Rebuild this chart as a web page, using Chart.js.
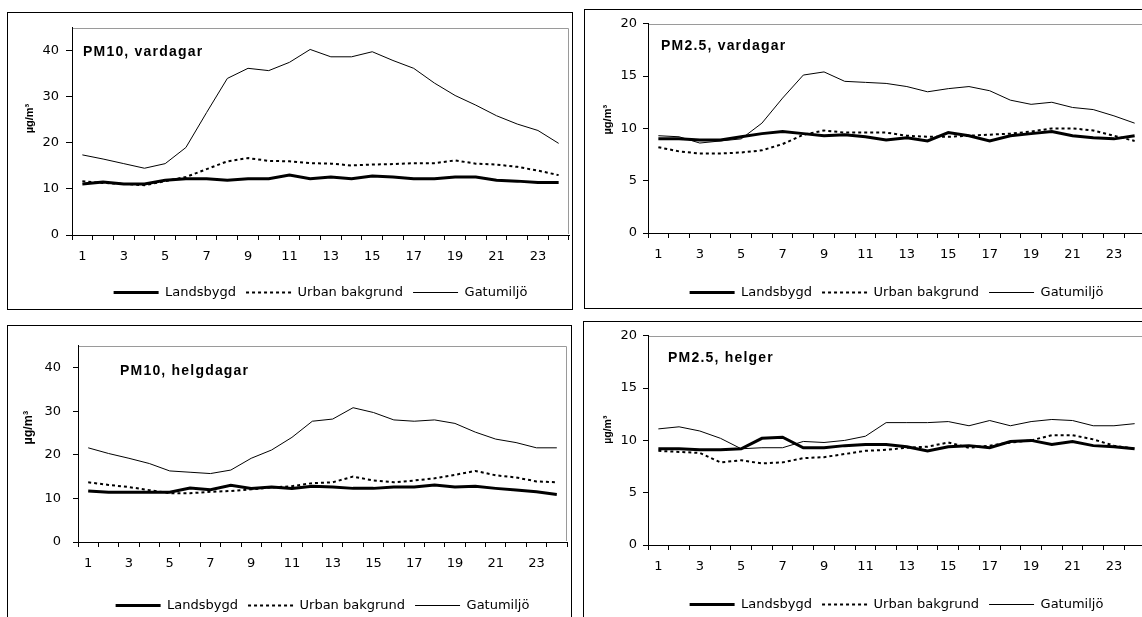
<!DOCTYPE html>
<html>
<head>
<meta charset="utf-8">
<script src="https://cdn.jsdelivr.net/npm/chart.js@4.4.0/dist/chart.umd.min.js"></script>
<style>
body { margin:0; background:#fff; overflow:hidden; width:1142px; height:617px; position:relative; }
.ram { position:absolute; border:1px solid #000; box-sizing:border-box; }
canvas { position:absolute; }
</style>
</head>
<body>
<div class="ram" style="left:7px;top:12px;width:566px;height:298px"></div>
<div class="ram" style="left:584px;top:9px;width:600px;height:300px"></div>
<div class="ram" style="left:7px;top:325px;width:565px;height:320px"></div>
<div class="ram" style="left:583px;top:321px;width:600px;height:320px"></div>

<canvas id="pm10v" width="564" height="296" style="left:8px;top:13px"></canvas>
<canvas id="pm25v" width="598" height="299" style="left:585px;top:10px"></canvas>
<canvas id="pm10h" width="563" height="300" style="left:8px;top:326px"></canvas>
<canvas id="pm25h" width="600" height="304" style="left:584px;top:322px"></canvas>

<script>
// timme på dygnet
var timmar = ['1','2','3','4','5','6','7','8','9','10','11','12','13','14','15','16','17','18','19','20','21','22','23','24'];

// PM10, vardagar (µg/m³)
var pm10vLand  = [11.1, 11.5, 11.1, 11.1, 11.9, 12.2, 12.2, 11.9, 12.2, 12.2, 13.0, 12.2, 12.6, 12.2, 12.8, 12.6, 12.2, 12.2, 12.6, 12.6, 11.9, 11.7, 11.4, 11.4];
var pm10vUrban = [11.7, 11.3, 11.1, 10.8, 11.7, 12.6, 14.3, 16.0, 16.7, 16.1, 16.0, 15.6, 15.5, 15.1, 15.3, 15.4, 15.6, 15.6, 16.2, 15.5, 15.3, 14.8, 14.0, 13.0];
var pm10vGata  = [17.4, 16.5, 15.5, 14.5, 15.5, 19.0, 26.6, 34.0, 36.2, 35.7, 37.5, 40.3, 38.7, 38.7, 39.8, 37.9, 36.2, 33.0, 30.3, 28.2, 25.9, 24.1, 22.7, 19.9];

// PM2.5, vardagar
var pm25vLand  = [9.0, 9.0, 8.9, 8.9, 9.2, 9.5, 9.7, 9.5, 9.3, 9.4, 9.2, 8.9, 9.1, 8.8, 9.6, 9.3, 8.8, 9.3, 9.5, 9.7, 9.3, 9.1, 9.0, 9.3];
var pm25vUrban = [8.2, 7.8, 7.6, 7.6, 7.7, 7.9, 8.5, 9.4, 9.8, 9.6, 9.6, 9.6, 9.3, 9.2, 9.2, 9.3, 9.4, 9.5, 9.7, 10.0, 10.0, 9.8, 9.3, 8.8];
var pm25vGata  = [9.3, 9.2, 8.6, 8.8, 9.0, 10.5, 12.9, 15.1, 15.4, 14.5, 14.4, 14.3, 14.0, 13.5, 13.8, 14.0, 13.6, 12.7, 12.3, 12.5, 12.0, 11.8, 11.2, 10.5];

// PM10, helgdagar
var pm10hLand  = [11.7, 11.4, 11.4, 11.4, 11.4, 12.4, 12.0, 13.0, 12.3, 12.6, 12.3, 12.8, 12.6, 12.3, 12.3, 12.6, 12.6, 13.1, 12.6, 12.8, 12.3, 11.9, 11.5, 10.9];
var pm10hUrban = [13.7, 13.1, 12.6, 11.9, 11.2, 11.2, 11.5, 11.7, 12.1, 12.5, 12.8, 13.5, 13.7, 15.0, 14.1, 13.7, 14.1, 14.6, 15.4, 16.3, 15.3, 14.8, 13.9, 13.7];
var pm10hGata  = [21.6, 20.3, 19.2, 18.0, 16.3, 16.0, 15.7, 16.5, 19.2, 21.1, 24.0, 27.7, 28.2, 30.8, 29.7, 28.0, 27.7, 28.0, 27.2, 25.2, 23.6, 22.8, 21.6, 21.6];

// PM2.5, helger
var pm25hLand  = [9.2, 9.2, 9.1, 9.1, 9.2, 10.2, 10.3, 9.3, 9.3, 9.5, 9.6, 9.6, 9.4, 9.0, 9.4, 9.5, 9.3, 9.9, 10.0, 9.6, 9.9, 9.5, 9.4, 9.2];
var pm25hUrban = [9.0, 8.9, 8.8, 7.9, 8.1, 7.8, 7.9, 8.3, 8.4, 8.7, 9.0, 9.1, 9.3, 9.4, 9.8, 9.3, 9.5, 9.8, 10.0, 10.5, 10.5, 10.1, 9.5, 9.2];
var pm25hGata  = [11.1, 11.3, 10.9, 10.2, 9.2, 9.3, 9.3, 9.9, 9.8, 10.0, 10.4, 11.7, 11.7, 11.7, 11.8, 11.4, 11.9, 11.4, 11.8, 12.0, 11.9, 11.4, 11.4, 11.6];

Chart.defaults.font.family = '"DejaVu Sans", sans-serif';
Chart.defaults.font.size = 13;
Chart.defaults.color = '#000';

// grå ram runt diagramytan (topp och höger) + rubrik och enhet
var panelText = {
    id: 'panelText',
    beforeDatasetsDraw: function(chart) {
        var ctx = chart.ctx, a = chart.chartArea;
        ctx.save();
        ctx.strokeStyle = '#9a9a9a';
        ctx.lineWidth = 1;
        ctx.beginPath();
        ctx.moveTo(a.left + 1, Math.round(a.top) + 0.5);
        ctx.lineTo(Math.round(a.right) - 0.5, Math.round(a.top) + 0.5);
        ctx.lineTo(Math.round(a.right) - 0.5, a.bottom - 1);
        ctx.stroke();
        ctx.restore();
    },
    afterDraw: function(chart, args, o) {
        var ctx = chart.ctx, a = chart.chartArea;
        ctx.save();
        ctx.fillStyle = '#000';
        ctx.font = 'bold 14px "Liberation Sans"';
        ctx.letterSpacing = '1.2px';
        ctx.textBaseline = 'alphabetic';
        ctx.fillText(o.title, a.left + o.titleDx, a.top + o.titleDy);
        ctx.letterSpacing = '0px';
        ctx.translate(o.unitX, o.unitY);
        ctx.rotate(-Math.PI / 2);
        ctx.font = 'bold ' + o.unitSize + 'px "Liberation Sans"';
        ctx.textAlign = 'center';
        ctx.textBaseline = 'middle';
        ctx.fillText('µg/m³', 0, 0);
        ctx.restore();
    }
};

// legendens linjeprov ska ha samma streckning som serien
function legendLabels(chart) {
    var items = Chart.defaults.plugins.legend.labels.generateLabels(chart);
    items.forEach(function(it) {
        var ds = chart.data.datasets[it.datasetIndex];
        it.lineDash = ds.borderDash || [];
        it.lineWidth = ds.borderWidth;
    });
    return items;
}

function rita(id, land, urban, gata, o) {
    var ctx = document.getElementById(id).getContext('2d');
    new Chart(ctx, {
        type: 'line',
        data: {
            labels: timmar,
            datasets: [
                { label: 'Landsbygd', data: land, borderColor: '#000', borderWidth: 3 },
                { label: 'Urban bakgrund', data: urban, borderColor: '#000', borderWidth: 2, borderDash: [3, 3] },
                { label: 'Gatumiljö', data: gata, borderColor: '#000', borderWidth: 1 }
            ]
        },
        options: {
            responsive: false,
            animation: false,
            events: [],
            elements: { point: { radius: 0 }, line: { tension: 0 } },
            layout: { padding: { left: 0, top: o.padTop, right: o.padRight, bottom: o.padBottom } },
            scales: {
                x: {
                    offset: true,
                    grid: { offset: true, drawOnChartArea: false, tickLength: 5, tickColor: '#000' },
                    border: { color: '#000' },
                    ticks: {
                        autoSkip: false, maxRotation: 0, padding: 9,
                        callback: function(v, i) { return i % 2 === 0 ? this.getLabelForValue(v) : ''; }
                    },
                    afterFit: function(s) { s.height = o.xHeight; }
                },
                y: {
                    min: 0, max: o.yMax,
                    ticks: { stepSize: o.step, padding: o.yPad },
                    afterBuildTicks: function(s) { s.ticks = s.ticks.filter(function(t) { return t.value % o.step === 0; }); },
                    grid: { drawOnChartArea: false, tickLength: o.yTick, tickColor: '#000' },
                    border: { color: '#000' },
                    afterFit: function(s) { s.width = o.yWidth; }
                }
            },
            plugins: {
                tooltip: { enabled: false },
                legend: {
                    position: 'bottom',
                    fullSize: false,
                    labels: {
                        usePointStyle: true, pointStyle: 'line', pointStyleWidth: 45,
                        padding: 10, color: '#000', font: { size: 13 },
                        generateLabels: legendLabels
                    }
                },
                panelText: o
            }
        },
        plugins: [panelText]
    });
}

rita('pm10v', pm10vLand, pm10vUrban, pm10vGata, {
    yMax: 45, step: 10, yWidth: 64, yPad: 7, yTick: 6, xHeight: 41,
    padTop: 11, padRight: 3, padBottom: 0,
    title: 'PM10, vardagar', titleDx: 11, titleDy: 27.7, unitX: 21.5, unitY: 105.5, unitSize: 11
});
rita('pm25v', pm25vLand, pm25vUrban, pm25vGata, {
    yMax: 20, step: 5, yWidth: 63, yPad: 6, yTick: 5, xHeight: 43,
    padTop: 12, padRight: 38, padBottom: 0,
    title: 'PM2.5, vardagar', titleDx: 13, titleDy: 26.3, unitX: 22.5, unitY: 109.7, unitSize: 11
});
rita('pm10h', pm10hLand, pm10hUrban, pm10hGata, {
    yMax: 45, step: 10, yWidth: 70, yPad: 12, yTick: 5, xHeight: 47,
    padTop: 12, padRight: 4, padBottom: 4,
    title: 'PM10, helgdagar', titleDx: 42, titleDy: 28.7, unitX: 21, unitY: 101.7, unitSize: 12.5
});
rita('pm25h', pm25hLand, pm25hUrban, pm25hGata, {
    yMax: 20, step: 5, yWidth: 64, yPad: 6, yTick: 5, xHeight: 43,
    padTop: 11, padRight: 39, padBottom: 5,
    title: 'PM2.5, helger', titleDx: 20, titleDy: 26.3, unitX: 24, unitY: 107.7, unitSize: 10.5
});
</script>
</body>
</html>
